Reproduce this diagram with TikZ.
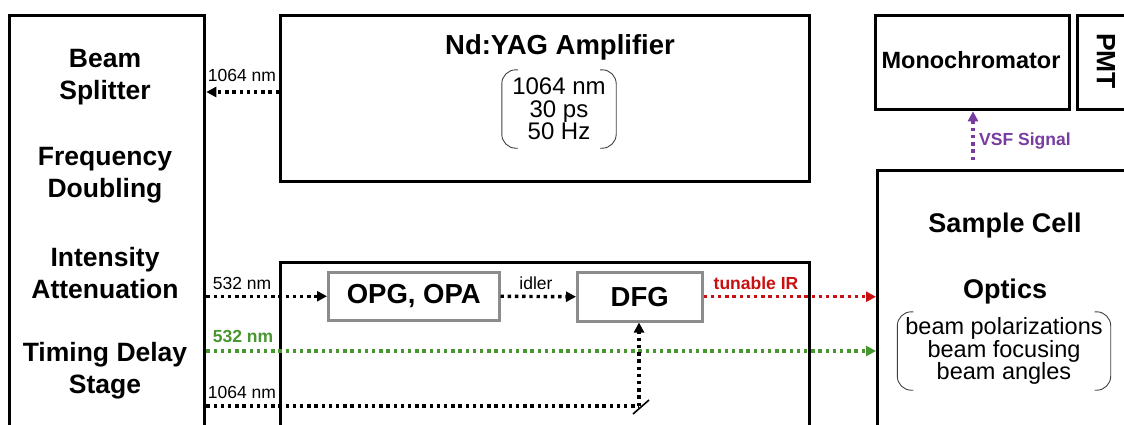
\documentclass[tikz,border=0pt]{standalone}
\usepackage{fontspec}
\setmainfont{Liberation Sans}
\usetikzlibrary{arrows.meta}
\definecolor{irred}{RGB}{200,16,16}
\definecolor{beamgreen}{RGB}{72,150,48}
\definecolor{vsfpurple}{RGB}{120,60,160}
\definecolor{boxgray}{RGB}{140,140,140}
\begin{document}
\begin{tikzpicture}[x=1pt,y=-1pt,
  bigbox/.style={draw,line width=3.3pt,inner sep=0pt,anchor=north west},
  graybox/.style={draw=boxgray,line width=2.5pt,inner sep=0pt,anchor=north west,
     font=\bfseries\fontsize{27.5}{30}\selectfont},
  title/.style={font=\bfseries\fontsize{26.5}{32}\selectfont,align=center,inner sep=0pt},
  plain/.style={font=\fontsize{24}{22.5}\selectfont,align=center,inner sep=0pt},
  lbl/.style={font=\fontsize{17.5}{20}\selectfont,inner sep=0pt,anchor=base},
  blbl/.style={font=\bfseries\fontsize{17.5}{20}\selectfont,inner sep=0pt,anchor=base},
  beam/.style={line width=3.4pt,dash pattern=on 3.4pt off 3.8pt,
     -{Triangle[length=10pt,width=10pt]}},
  bline/.style={line width=3.4pt,dash pattern=on 3.4pt off 3.8pt},
  brk/.style={draw=black!75,line width=0.9pt,rounded corners=14pt}
]
\useasboundingbox (0,0) rectangle (1124,424);
\clip (0,0) rectangle (1124,424);

% boxes
\node[bigbox,minimum width=195pt,minimum height=460pt] (left) at (8,14) {};
\node[bigbox,minimum width=529pt,minimum height=166pt] (yag) at (279,14) {};
\node[bigbox,minimum width=529pt,minimum height=200pt] (low) at (279,261) {};
\node[bigbox,minimum width=300pt,minimum height=300pt] (cell) at (876,169) {};
\node[bigbox,minimum width=194pt,minimum height=94pt] (mono) at (874,14) {};
\node[bigbox,minimum width=80pt,minimum height=94pt] (pmt) at (1076,14) {};
\node[graybox,minimum width=171pt,minimum height=48pt] (opg) at (327,271) {OPG, OPA};
\node[graybox,minimum width=125pt,minimum height=49pt] (dfg) at (576,271) {DFG};

% left box texts
\node[title] (bs) at (105,77) {Beam\\Splitter};
\node[title] (fd) at (105,175) {Frequency\\Doubling};
\node[title] (ia) at (105,273) {Intensity\\Attenuation};
\node[title] (td) at (105,371) {Timing Delay\\Stage};

% Nd:YAG
\node[title,font=\bfseries\fontsize{27.5}{31}\selectfont] (yagt) at (560,47) {Nd:YAG Amplifier};
\node[plain,minimum width=114pt,minimum height=78pt] (yagp) at (559,109) {1064 nm\\30 ps\\50 Hz};
\draw[brk] ([xshift=16pt]yagp.north west) -- (yagp.north west) -- (yagp.south west) -- ([xshift=16pt]yagp.south west);
\draw[brk] ([xshift=-16pt]yagp.north east) -- (yagp.north east) -- (yagp.south east) -- ([xshift=-16pt]yagp.south east);

% monochromator, PMT
\node[title,font=\bfseries\fontsize{23.5}{28}\selectfont] (monot) at (971,60) {Monochromator};
\node[title,rotate=-90] (pmtt) at (1106,61) {PMT};

% sample cell
\node[title,font=\bfseries\fontsize{27}{31}\selectfont] (sc) at (1005,226) {Sample Cell};
\node[title,font=\bfseries\fontsize{27}{31}\selectfont] (op) at (1005,292) {Optics};
\node[plain,font=\fontsize{23.5}{21.8}\selectfont,minimum width=213pt,minimum height=78pt] (opp) at (1004,351) {beam polarizations\\beam focusing\\beam angles};
\draw[brk] ([xshift=16pt]opp.north west) -- (opp.north west) -- (opp.south west) -- ([xshift=16pt]opp.south west);
\draw[brk] ([xshift=-16pt]opp.north east) -- (opp.north east) -- (opp.south east) -- ([xshift=-16pt]opp.south east);

% connectors
\coordinate (yagin) at (yag.west |- 0,92);
\coordinate (leftout1) at (left.east |- 0,92);
\draw[beam] (yagin) -- (leftout1);
\node[lbl] (l1064a) at (242,81) {1064 nm};

\coordinate (s532) at (left.east |- opg.west);
\draw[beam] (s532) -- (opg.west);
\node[lbl] (l532) at (242,289) {532 nm};

\draw[beam] (opg.east) -- (dfg.west);
\node[lbl] (lidl) at (536,289) {idler};

\coordinate (irend) at (cell.west |- dfg.east);
\draw[beam,irred] (dfg.east) -- (irend);
\node[blbl,irred] (lir) at (756,289) {tunable IR};

\coordinate (g0) at (left.east |- 0,351);
\coordinate (g1) at (cell.west |- 0,351);
\draw[beam,beamgreen] (g0) -- (g1);
\node[blbl,beamgreen] (lg) at (243,342) {532 nm};

\coordinate (b0) at (left.east |- 0,406);
\coordinate (bc) at (639,406);
\draw[bline] (b0) -- (bc);
\draw[beam] (bc) -- (bc |- dfg.south);
\draw[line width=1.6pt] (633,414) -- (649,400);
\node[lbl] (l1064b) at (242,398) {1064 nm};

\coordinate (v0) at (973,160);
\draw[beam,vsfpurple] (v0) -- (v0 |- mono.south);
\node[blbl,vsfpurple,anchor=west] (lv) at (979,141) {VSF Signal};
\end{tikzpicture}
\end{document}
